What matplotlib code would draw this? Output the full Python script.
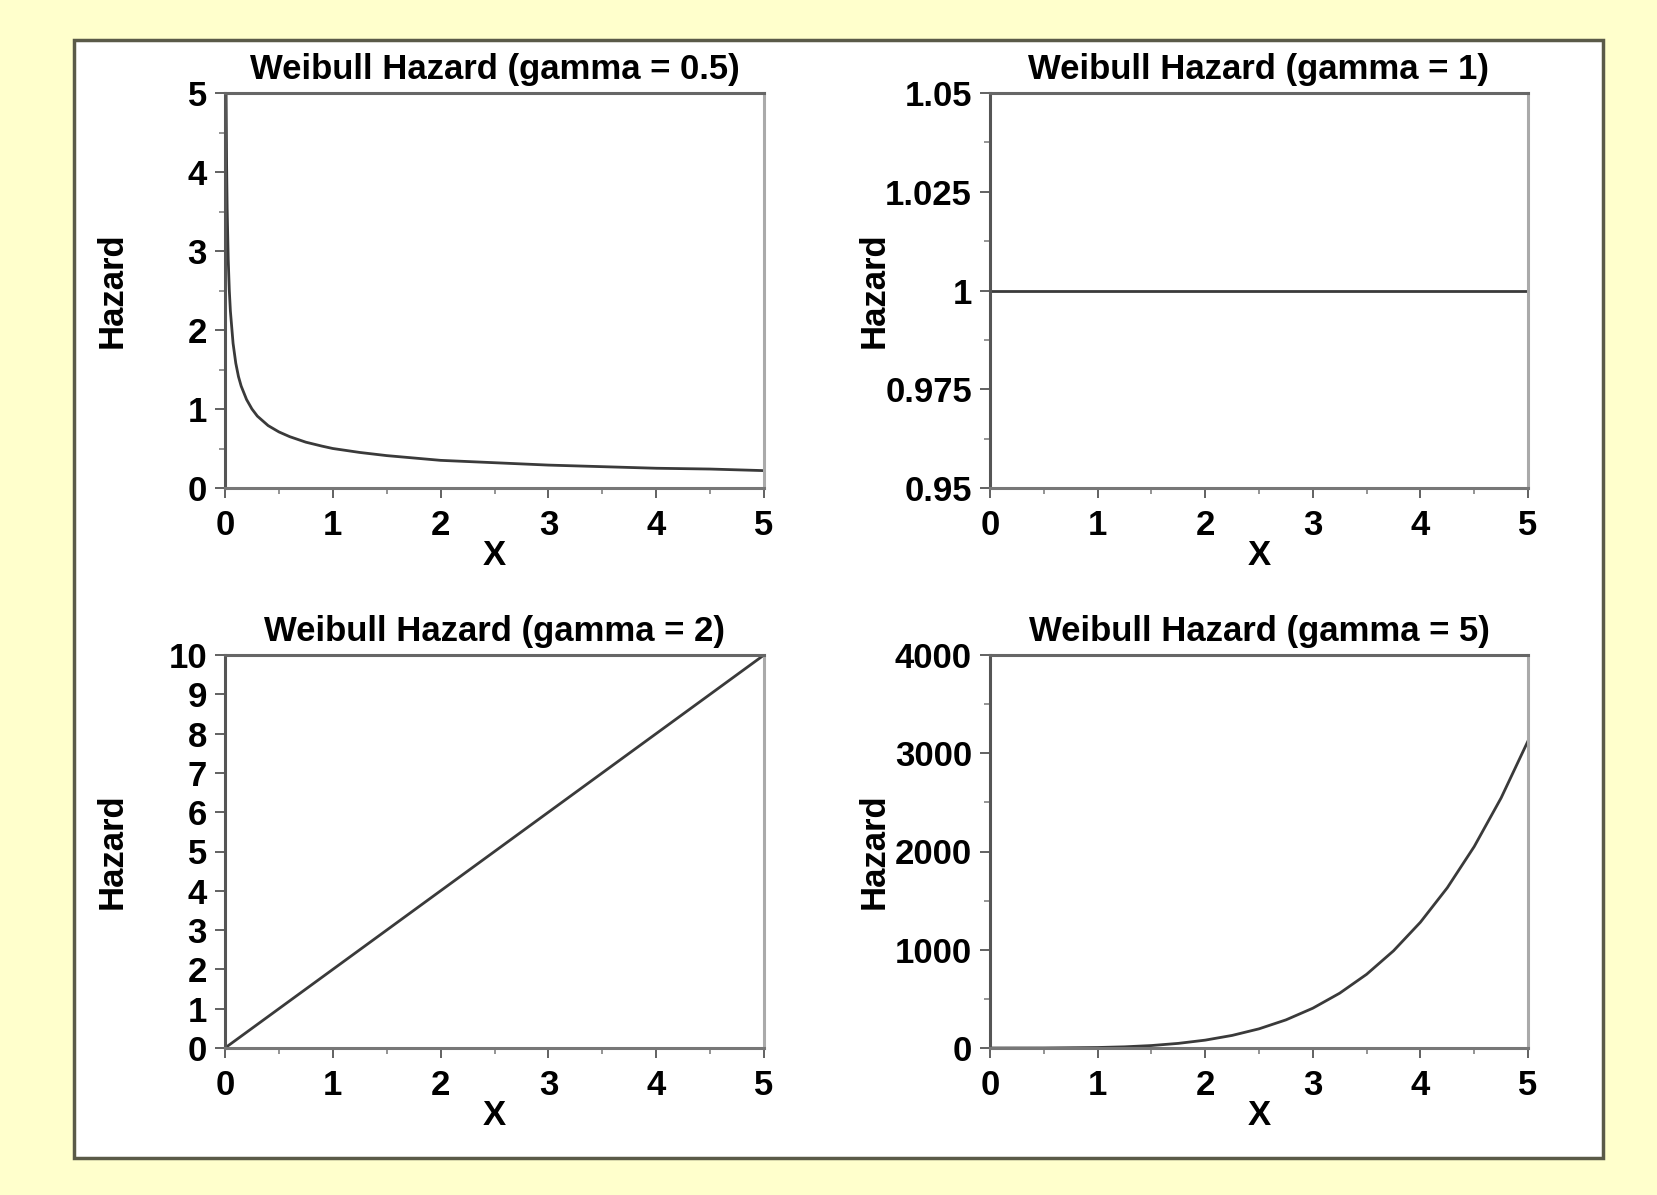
import matplotlib
matplotlib.use("Agg")
import matplotlib.pyplot as plt
from matplotlib.patches import Rectangle
from matplotlib.ticker import MultipleLocator

plt.rcParams['font.family'] = ['Liberation Sans', 'DejaVu Sans']

# ---- data ----
titles = ["Weibull Hazard (gamma = 0.5)", "Weibull Hazard (gamma = 1)",
          "Weibull Hazard (gamma = 2)", "Weibull Hazard (gamma = 5)"]

x_g05 = [0.01, 0.015, 0.02, 0.03, 0.04, 0.05, 0.075, 0.1, 0.125, 0.15, 0.2, 0.25,
         0.3, 0.35, 0.4, 0.5, 0.6, 0.75, 0.9, 1.0, 1.25, 1.5, 1.75, 2.0, 2.5,
         3.0, 3.5, 4.0, 4.5, 5.0]
h_g05 = [5.0, 4.08, 3.54, 2.89, 2.50, 2.24, 1.83, 1.58, 1.41, 1.29, 1.12, 1.00,
         0.91, 0.85, 0.79, 0.71, 0.65, 0.58, 0.53, 0.50, 0.45, 0.41, 0.38, 0.35, 0.32,
         0.29, 0.27, 0.25, 0.24, 0.22]

x_g1 = [0.0, 5.0]
h_g1 = [1.0, 1.0]

x_g2 = [0.0, 5.0]
h_g2 = [0.0, 10.0]

x_g5 = [0.0, 0.5, 1.0, 1.25, 1.5, 1.75, 2.0, 2.25, 2.5, 2.75, 3.0, 3.25, 3.5, 3.75,
        4.0, 4.25, 4.5, 4.75, 5.0]
h_g5 = [0.0, 0.3, 5, 12, 25, 47, 80, 128, 195, 286, 405, 558, 750, 989,
        1280, 1631, 2050, 2545, 3125]

y_ticks_g05 = [0, 1, 2, 3, 4, 5]
y_ticks_g1 = [0.95, 0.975, 1.0, 1.025, 1.05]
y_ticklabels_g1 = ["0.95", "0.975", "1", "1.025", "1.05"]
y_ticks_g2 = [0, 1, 2, 3, 4, 5, 6, 7, 8, 9, 10]
y_ticks_g5 = [0, 1000, 2000, 3000, 4000]
x_ticks = [0, 1, 2, 3, 4, 5]

# ---- figure ----
W, H = 1657, 1195
fig = plt.figure(figsize=(W / 100, H / 100), dpi=100, facecolor="#FFFFCC")

# white inner panel
fig.patches.append(Rectangle((74 / W, 1 - 1158 / H), (1603 - 74) / W, (1158 - 40) / H,
                             transform=fig.transFigure, facecolor="white",
                             edgecolor="#5a5a48", linewidth=2.5, zorder=-10))

def px_axes(l, t, r, b):
    return fig.add_axes([l / W, 1 - b / H, (r - l) / W, (b - t) / H])

FS = 25
LINE = "#3a3a3a"

specs = [
    (px_axes(225, 93, 764, 488), x_g05, h_g05, (0, 5), y_ticks_g05, None, 0.5),
    (px_axes(990, 93, 1528, 488), x_g1, h_g1, (0.95, 1.05), y_ticks_g1, y_ticklabels_g1, 0.0125),
    (px_axes(225, 655, 764, 1048), x_g2, h_g2, (0, 10), y_ticks_g2, None, None),
    (px_axes(990, 655, 1528, 1048), x_g5, h_g5, (0, 4000), y_ticks_g5, None, 500),
]

for i, (ax, xs, ys, ylim, yt, ytl, yminor) in enumerate(specs):
    ax.plot(xs, ys, color=LINE, linewidth=2.0, clip_on=True)
    ax.set_xlim(0, 5)
    ax.set_ylim(*ylim)
    ax.set_xticks(x_ticks)
    ax.set_xticklabels([str(v) for v in x_ticks])
    ax.xaxis.set_minor_locator(MultipleLocator(0.5))
    ax.set_yticks(yt)
    if ytl is not None:
        ax.set_yticklabels(ytl)
    else:
        ax.set_yticklabels([str(v) for v in yt])
    if yminor is not None:
        ax.yaxis.set_minor_locator(MultipleLocator(yminor))
    ax.tick_params(axis="both", which="major", direction="out", length=7, width=1.3,
                   color="#555555", labelsize=FS, labelcolor="black")
    ax.tick_params(axis="both", which="minor", direction="out", length=4, width=1.1,
                   color="#777777")
    ax.tick_params(axis="x", which="major", pad=8)
    ax.tick_params(axis="y", which="major", pad=6)
    for lab in ax.get_xticklabels() + ax.get_yticklabels():
        lab.set_fontweight("bold")
    ax.spines["left"].set_color("#555555")
    ax.spines["top"].set_color("#666666")
    ax.spines["right"].set_color("#aaaaaa")
    ax.spines["bottom"].set_color("#777777")
    for s in ax.spines.values():
        s.set_linewidth(2.2)
    ax.set_title(titles[i], fontsize=FS, fontweight="bold", pad=10)
    ax.set_xlabel("X", fontsize=FS, fontweight="bold")
    ax.xaxis.set_label_coords(0.5, -0.13)
    ax.set_ylabel("Hazard", fontsize=FS, fontweight="bold")
    ax.yaxis.set_label_coords(-0.178 if i % 2 == 0 else -0.184, 0.5)

fig.savefig("out.png", dpi=100, facecolor=fig.get_facecolor())
